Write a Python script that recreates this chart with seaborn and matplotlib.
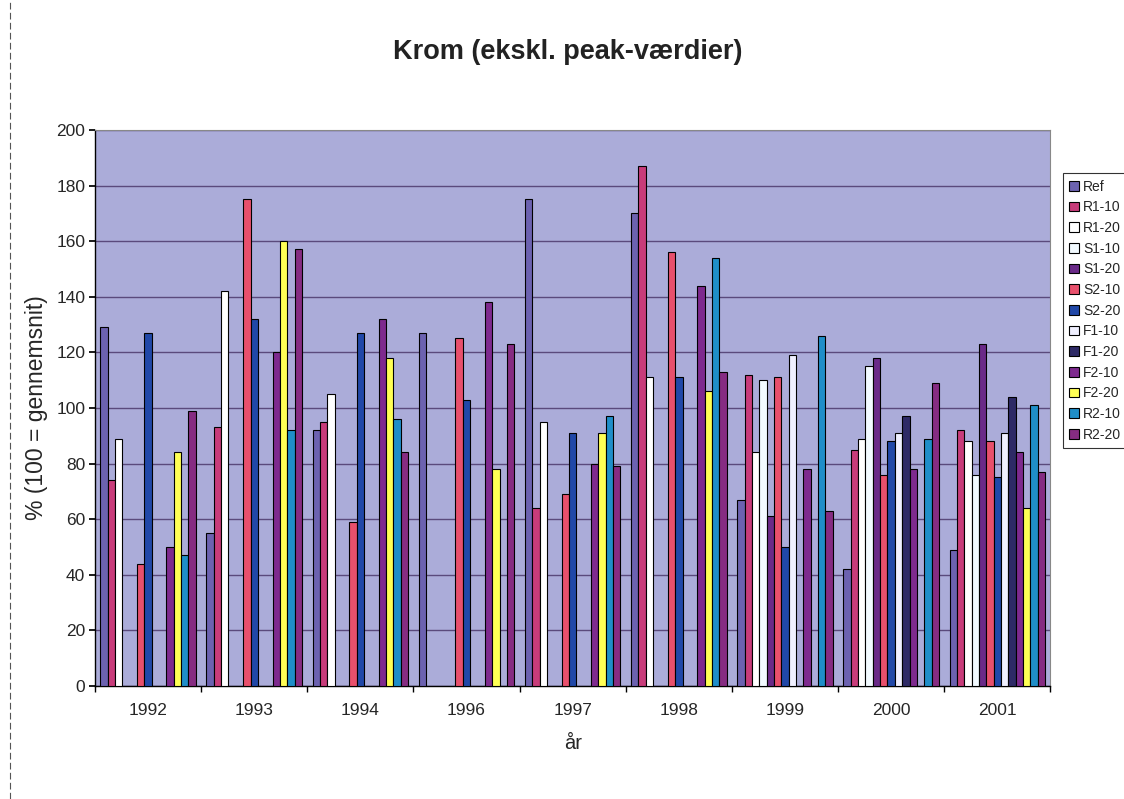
import numpy as np
import pandas as pd
import matplotlib
matplotlib.use("Agg")
import matplotlib.pyplot as plt
from matplotlib.lines import Line2D
import seaborn as sns

years = ["1992", "1993", "1994", "1996", "1997", "1998", "1999", "2000", "2001"]
series = ["Ref", "R1-10", "R1-20", "S1-10", "S1-20", "S2-10", "S2-20",
          "F1-10", "F1-20", "F2-10", "F2-20", "R2-10", "R2-20"]
nan = np.nan
ref   = [129, 55, 92, 127, 175, 170, 67, 42, 49]
r1_10 = [74, 93, 95, nan, 64, 187, 112, 85, 92]
r1_20 = [89, 142, 105, nan, 95, 111, 84, 89, 88]
s1_10 = [nan, nan, nan, nan, nan, nan, 110, 115, 76]
s1_20 = [nan, nan, nan, nan, nan, nan, 61, 118, 123]
s2_10 = [44, 175, 59, 125, 69, 156, 111, 76, 88]
s2_20 = [127, 132, 127, 103, 91, 111, 50, 88, 75]
f1_10 = [nan, nan, nan, nan, nan, nan, 119, 91, 91]
f1_20 = [nan, nan, nan, nan, nan, nan, nan, 97, 104]
f2_10 = [50, 120, 132, 138, 80, 144, 78, 78, 84]
f2_20 = [84, 160, 118, 78, 91, 106, nan, nan, 64]
r2_10 = [47, 92, 96, nan, 97, 154, 126, 89, 101]
r2_20 = [99, 157, 84, 123, 79, 113, 63, 109, 77]

values = [ref, r1_10, r1_20, s1_10, s1_20, s2_10, s2_20,
          f1_10, f1_20, f2_10, f2_20, r2_10, r2_20]
colors = ["#6c62b0", "#c83c7a", "#ffffff", "#f2faff", "#6a2a88", "#e8506c",
          "#2148a8", "#f0f0ff", "#2e2a66", "#7e2a8e", "#ffff55", "#1f8ec8", "#862c82"]

rows = []
for s, vals in zip(series, values):
    for y, v in zip(years, vals):
        rows.append({"year": y, "series": s, "value": v})
df = pd.DataFrame(rows)

sns.set_theme(style="white")
plt.rcParams["font.family"] = ["Liberation Sans", "DejaVu Sans"]

fig = plt.figure(figsize=(11.24, 7.99), dpi=100)
ax = fig.add_axes([0.0845, 0.1414, 0.8500, 0.6960])
ax.set_facecolor("#abacd9")

sns.barplot(data=df, x="year", y="value", hue="series", order=years,
            hue_order=series, palette=colors, width=0.9, dodge=True,
            saturation=1, edgecolor="black", linewidth=0.8, ax=ax,
            legend=True, zorder=3)

ax.set_ylim(0, 200)
ax.set_xlim(-0.5, len(years) - 0.5)
ax.set_yticks(np.arange(0, 201, 20))
ax.yaxis.grid(True, color="#5a4a7c", linewidth=1.0, zorder=1)
ax.set_axisbelow(True)
ax.tick_params(axis="y", labelsize=12.5, length=4, direction="out", left=True,
               color="black", pad=3)
ax.tick_params(axis="x", labelsize=12.5, length=0, pad=12)
ax.set_xticks(np.arange(-0.5, len(years), 1.0), minor=True)
ax.tick_params(axis="x", which="minor", length=4, direction="out", bottom=True, color="black")

for side in ["top", "right"]:
    ax.spines[side].set_color("#888888")
    ax.spines[side].set_linewidth(0.8)
for side in ["left", "bottom"]:
    ax.spines[side].set_color("black")
    ax.spines[side].set_linewidth(1.0)

ax.set_xlabel("år", fontsize=14.5, labelpad=12)
ax.set_ylabel("% (100 = gennemsnit)", fontsize=16.5, labelpad=6)
fig.text(0.505, 0.935, "Krom (ekskl. peak-værdier)", ha="center", va="center",
         fontsize=19.5, fontweight="bold", color="#222222")

leg = ax.legend(loc="upper left", bbox_to_anchor=(0.9455, 0.783),
                bbox_transform=fig.transFigure, fontsize=10, frameon=True,
                fancybox=False, edgecolor="black", handlelength=0.7,
                handleheight=0.7, handletextpad=0.3, labelspacing=0.48,
                borderpad=0.45, borderaxespad=0)
leg.get_frame().set_linewidth(0.8)

fig.add_artist(Line2D([0.009, 0.009], [0.0, 1.0], transform=fig.transFigure,
                      color="#555555", linewidth=0.8, linestyle=(0, (6, 3))))

fig.savefig("out.png", dpi=100)
